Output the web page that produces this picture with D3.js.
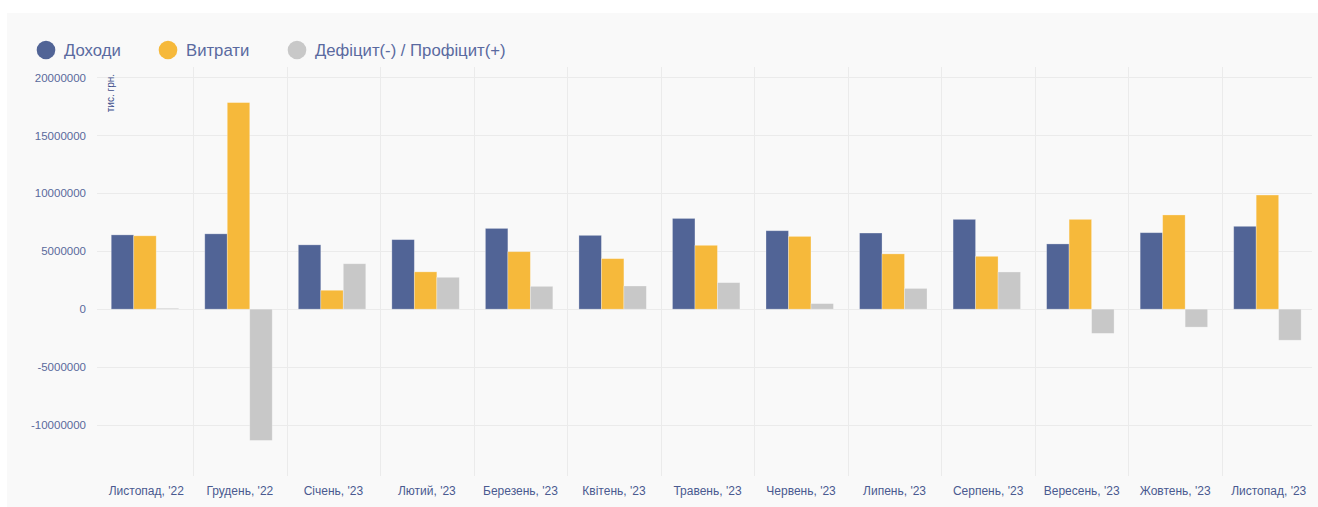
<!DOCTYPE html>
<html>
<head>
<meta charset="utf-8">
<script src="https://cdn.jsdelivr.net/npm/d3@7"></script>
<style>
    body { margin: 0; background: #fff; font-family: "Liberation Sans", Arial, sans-serif; }
</style>
</head>
<body>
<div id="chart"></div>
<script>
// months on the x axis
var months = ["Листопад, '22", "Грудень, '22", "Січень, '23", "Лютий, '23", "Березень, '23", "Квітень, '23",
    "Травень, '23", "Червень, '23", "Липень, '23", "Серпень, '23", "Вересень, '23", "Жовтень, '23", "Листопад, '23"];

// тис. грн.
var income   = [6410000, 6500000, 5550000, 6000000, 6970000, 6370000, 7830000, 6770000, 6570000, 7750000, 5630000, 6600000, 7150000];
var expenses = [6330000, 17830000, 1630000, 3220000, 4960000, 4360000, 5510000, 6280000, 4770000, 4560000, 7750000, 8130000, 9850000];
var balance  = [80000, -11330000, 3920000, 2750000, 1970000, 2000000, 2290000, 480000, 1790000, 3210000, -2090000, -1550000, -2680000];

var seriesNames = ["Доходи", "Витрати", "Дефіцит(-) / Профіцит(+)"];
var seriesColors = ["#516496", "#f6b93b", "#c8c8c8"];
var yTicks = [-10000000, -5000000, 0, 5000000, 10000000, 15000000, 20000000];

var width = 1318, height = 507;
var plotLeft = 99.5, plotRight = 1315.5, plotTop = 67, plotBottom = 476;

var svg = d3.select("#chart").append("svg")
    .attr("width", width)
    .attr("height", height);

// panel background
svg.append("rect")
    .attr("x", 7).attr("y", 13)
    .attr("width", width - 7).attr("height", height - 13)
    .attr("fill", "#f9f9f9");

var x = d3.scaleBand().domain(months).range([plotLeft, plotRight]);
var inner = d3.scaleBand().domain([0, 1, 2])
    .range([0, x.bandwidth()]).paddingOuter(0.58).align(0.45);
var y = d3.scaleLinear().domain([-14400000, 20900000]).range([plotBottom, plotTop]);

// horizontal grid
svg.append("g").selectAll("line").data(yTicks).enter().append("line")
    .attr("x1", 97).attr("x2", 1312)
    .attr("y1", function(d) { return Math.round(y(d)) + 0.5; })
    .attr("y2", function(d) { return Math.round(y(d)) + 0.5; })
    .attr("stroke", "#ebebeb")
    .attr("stroke-width", 1);

// vertical grid between months
svg.append("g").selectAll("line").data(months.slice(1)).enter().append("line")
    .attr("x1", function(d) { return Math.round(x(d)) + 0.5; })
    .attr("x2", function(d) { return Math.round(x(d)) + 0.5; })
    .attr("y1", plotTop).attr("y2", plotBottom)
    .attr("stroke", "#ebebeb")
    .attr("stroke-width", 1);

// y axis labels
var yAxis = d3.axisLeft(y).tickValues(yTicks).tickSize(0).tickPadding(0)
    .tickFormat(function(d) { return String(d); });
var yg = svg.append("g").attr("transform", "translate(86,0)").call(yAxis);
yg.select(".domain").remove();
yg.selectAll("text")
    .attr("fill", "#5a6a9c")
    .style("font-size", "11.5px")
    .style("font-family", "Liberation Sans, Arial, sans-serif");

// unit label
svg.append("text")
    .attr("transform", "translate(114,74) rotate(-90)")
    .attr("text-anchor", "end")
    .attr("fill", "#3e4f8c")
    .style("font-size", "10px")
    .text("тис. грн.");

// x axis labels
var xAxis = d3.axisBottom(x).tickSize(0).tickPadding(0);
var xg = svg.append("g").attr("transform", "translate(0,486)").call(xAxis);
xg.select(".domain").remove();
xg.selectAll("text")
    .attr("fill", "#4a5a90")
    .style("font-size", "12px")
    .style("font-family", "Liberation Sans, Arial, sans-serif");

// bars
var all = [income, expenses, balance];
var rows = [];
for (var i = 0; i < months.length; i++) {
    for (var s = 0; s < 3; s++) {
        rows.push({ month: months[i], s: s, v: all[s][i] });
    }
}
svg.append("g").selectAll("rect").data(rows).enter().append("rect")
    .attr("x", function(d) { return x(d.month) + inner(d.s); })
    .attr("width", inner.bandwidth())
    .attr("y", function(d) { return y(Math.max(0, d.v)); })
    .attr("height", function(d) { return Math.abs(y(d.v) - y(0)); })
    .attr("fill", function(d) { return seriesColors[d.s]; })
    .attr("stroke", "#ffffff")
    .attr("stroke-opacity", 0.35)
    .attr("stroke-width", 0.8);

// legend
var legendX = [46, 168, 297];
var legend = svg.append("g").selectAll("g").data(seriesNames).enter().append("g")
    .attr("transform", function(d, i) { return "translate(" + legendX[i] + ",50)"; });
legend.append("circle")
    .attr("r", 9.3)
    .attr("fill", function(d, i) { return seriesColors[i]; });
legend.append("text")
    .attr("x", 18)
    .attr("dy", "0.35em")
    .attr("fill", "#5a6aa0")
    .style("font-size", "16.7px")
    .text(function(d) { return d; });
</script>
</body>
</html>
